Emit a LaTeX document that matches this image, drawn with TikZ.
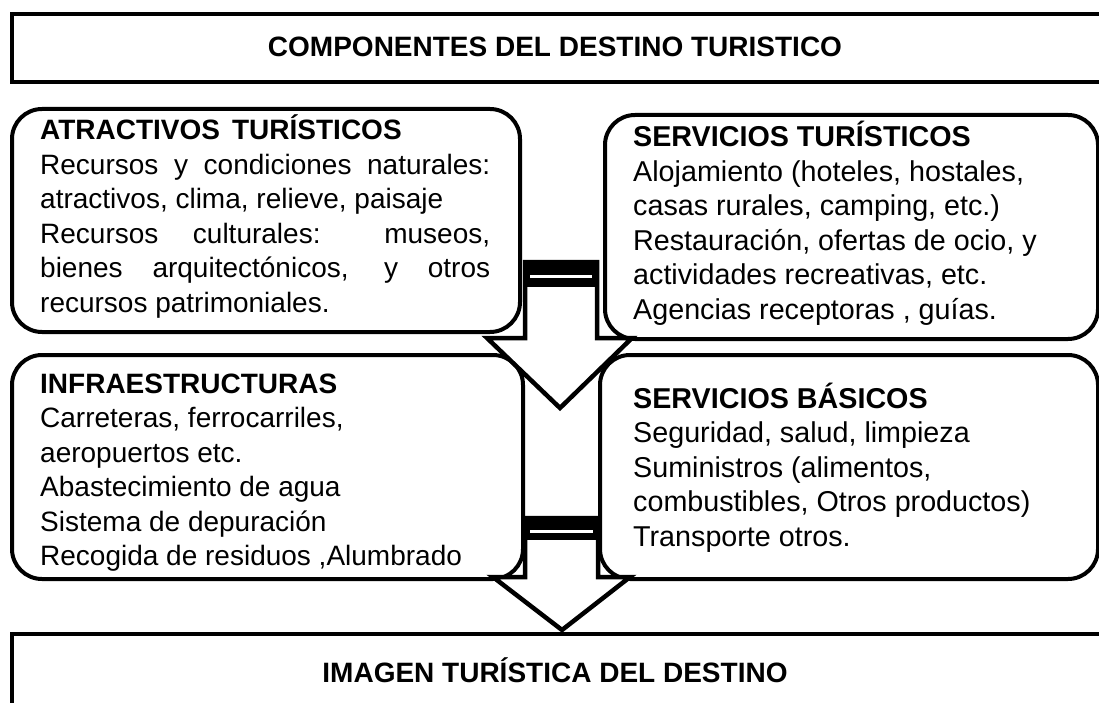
\documentclass[tikz,border=0pt]{standalone}
\usepackage{fontspec}
\setmainfont{Liberation Sans}
\begin{document}
\begin{tikzpicture}[x=1pt,y=-1pt,
  framebox/.style={draw=black, line width=4pt, anchor=north west, inner sep=0pt, fill=white},
  roundbox/.style={framebox, rounded corners=30pt},
  txt/.style={anchor=base west, inner sep=0pt, align=left, font=\fontsize{28}{34.5}\selectfont},
  rtxt/.style={txt, font=\fontsize{28.7}{34.5}\selectfont},
  ttl/.style={anchor=base, inner sep=0pt, font=\fontsize{28}{34.5}\selectfont\bfseries},
  blockarrow/.style={draw=black, fill=white, line width=4.5pt, line join=miter},
  bar/.style={fill=black},
  gap/.style={draw=white, line width=2.5pt}
]
\useasboundingbox (0,0) rectangle (1099,703);

% title frames
\node[framebox, minimum width=1100pt, minimum height=68pt] (top) at (10,12) {};
\node[ttl] (toptext) at (555,57) {COMPONENTES DEL DESTINO TURISTICO};
\node[framebox, minimum width=1089.5pt, minimum height=80pt] (bottom) at (10,632) {};
\node[ttl] (bottomtext) at (555,682) {IMAGEN TURÍSTICA DEL DESTINO};

% rounded boxes
\node[roundbox, minimum width=508pt, minimum height=223pt] (atr) at (10,107) {};
\node[roundbox, minimum width=493pt, minimum height=224pt] (serv) at (603,113) {};
\node[roundbox, minimum width=511pt, minimum height=224pt] (infra) at (10,353) {};
\node[roundbox, minimum width=498pt, minimum height=224pt] (basic) at (598,353) {};

% texts
\node[txt] (atrtext) at (40,140) {\begin{tabular}[t]{@{}l@{}}
\textbf{ATRACTIVOS\hspace{12pt}TURÍSTICOS}\\
\makebox[450pt][s]{Recursos y condiciones naturales:}\\
atractivos, clima, relieve, paisaje\\
\makebox[450pt][s]{Recursos culturales: museos,}\\
\makebox[450pt][s]{bienes arquitectónicos, y otros}\\
recursos patrimoniales.
\end{tabular}};

\node[rtxt] (servtext) at (633,147) {\begin{tabular}[t]{@{}l@{}}
\textbf{SERVICIOS TURÍSTICOS}\\
Alojamiento (hoteles, hostales,\\
casas rurales, camping, etc.)\\
Restauración, ofertas de ocio, y\\
actividades recreativas, etc.\\
Agencias receptoras , guías.
\end{tabular}};

\node[txt] (infratext) at (40,393) {\begin{tabular}[t]{@{}l@{}}
\textbf{INFRAESTRUCTURAS}\\
Carreteras, ferrocarriles,\\
aeropuertos etc.\\
Abastecimiento de agua\\
Sistema de depuración\\
Recogida de residuos ,Alumbrado
\end{tabular}};

\node[rtxt] (basictext) at (633,408) {\begin{tabular}[t]{@{}l@{}}
\textbf{SERVICIOS BÁSICOS}\\
Seguridad, salud, limpieza\\
Suministros (alimentos,\\
combustibles, Otros productos)\\
Transporte otros.
\end{tabular}};

% block arrow 1
\draw[blockarrow] (525,338) -- (525,262) -- (597,262) -- (597,338) -- (632,338) -- (560,408) -- (487,338) -- cycle;
\fill[bar] (522.75,262) rectangle (599.25,287);
\draw[gap] (530,276.5) -- (592,276.5);

% block arrow 2
\draw[blockarrow] (525,577) -- (525,518) -- (598,518) -- (598,577) -- (630,577) -- (562,630) -- (493,577) -- cycle;
\fill[bar] (522.75,518) rectangle (600.25,540);
\draw[gap] (530,531.5) -- (593,531.5);
\end{tikzpicture}
\end{document}
